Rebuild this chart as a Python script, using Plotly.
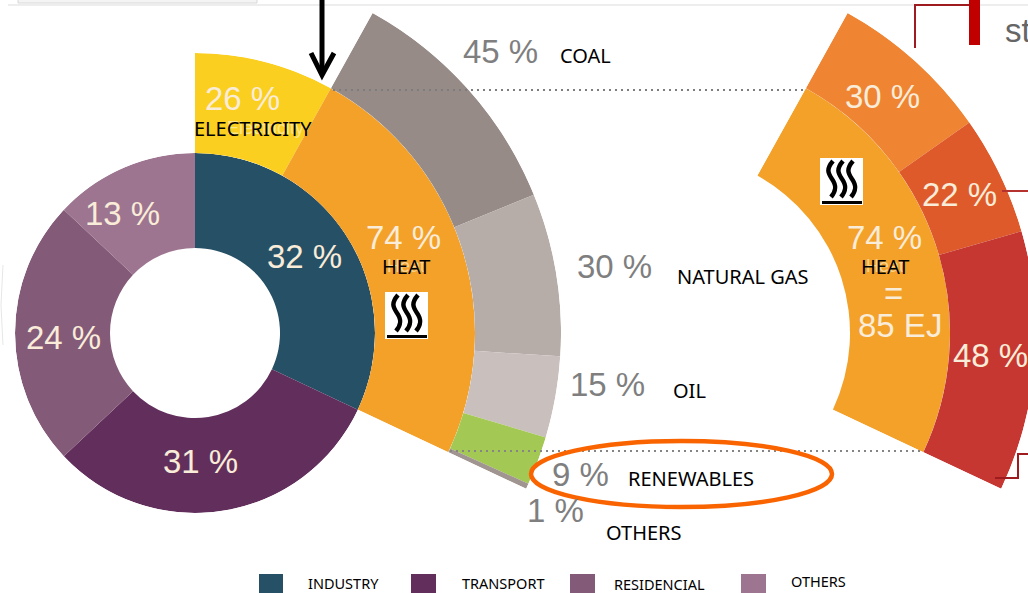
import math

import plotly.graph_objects as go

# Percent shares
sector_names = ['Industry', 'Transport', 'Residencial', 'Others']
sector_share = [32, 31, 24, 13]
sector_colors = ['#265066', '#622f5c', '#835a78', '#9d7590']

# printed as 26 / 74, the wedges themselves are drawn a little off that
use_names = ['Electricity', 'Heat']
use_share = [25.2, 74.8]
use_colors = ['#fbcf20', '#f4a12a']

fuel_names = ['Coal', 'Natural gas', 'Oil', 'Renewables', 'Others']
fuel_share = [45, 30, 15, 9, 1]
fuel_colors = ['#978b87', '#b6aca8', '#c9c0bd', '#a3c854', '#a09590']

temp_names = ['30 %', '22 %', '48 %']
temp_share = [30, 22, 48]
temp_colors = ['#ef8533', '#de5a2a', '#c63731']

legend_labels = ['INDUSTRY', 'TRANSPORT', 'RESIDENCIAL', 'OTHERS']

# Page is a bit wider than the window so the right ring runs off the edge
W, H = 1040, 593
R_HOLE, R_IN, R_MID, R_OUT = 85, 180, 280, 366
LEFT_C = (195, 333)
RIGHT_C = (670, 333)
WHITE = '#f9ecd8'
GREY = '#7f7f7f'
LABEL_FONT = 'Noto Sans'
NUM_FONT = 'Liberation Sans'


def px(x):
    return x / W


def py(y):
    return 1 - y / H


def ring(names, shares, colors, start, span, inner, outer, subplot):
    """Wedges for one ring, angles clockwise from the top of the circle."""
    total = sum(shares)
    widths = [s / total * span for s in shares]
    theta = []
    pos = start
    for w in widths:
        theta.append(pos + w / 2)
        pos += w
    return go.Barpolar(
        theta=theta, width=widths, r=[outer - inner] * len(shares), base=inner,
        marker=dict(color=colors, line=dict(width=0)),
        text=names, hoverinfo='text', subplot=subplot, showlegend=False,
    )


def polar_layout(center, radius, sector=None):
    cx, cy = center
    if sector is None:
        x0, x1, y0, y1 = cx - radius, cx + radius, cy - radius, cy + radius
        sector = [0, 360]
    else:
        x0, x1 = cx, cx + radius
        y0 = cy - radius * math.sin(math.radians(sector[1]))
        y1 = cy - radius * math.sin(math.radians(sector[0]))
    return dict(
        domain=dict(x=[px(x0), px(x1)], y=[py(y1), py(y0)]),
        sector=sector,
        bgcolor='rgba(0,0,0,0)',
        radialaxis=dict(visible=False, range=[0, radius]),
        angularaxis=dict(visible=False, direction='clockwise', rotation=90),
    )


heat_span = sector_share[0] / 100 * 360
elec_span = heat_span * use_share[0] / 100
sector_end = 90 - heat_span

fig = go.Figure()
fig.add_trace(ring(sector_names, sector_share, sector_colors, 0, 360, R_HOLE, R_IN, 'polar'))
fig.add_trace(ring(use_names, use_share, use_colors, 0, heat_span, R_IN, R_MID, 'polar2'))
fig.add_trace(ring(fuel_names, fuel_share, fuel_colors, elec_span, heat_span - elec_span, R_MID, R_OUT, 'polar3'))
fig.add_trace(ring(['Heat'], [use_share[1]], [use_colors[1]], elec_span, heat_span - elec_span, R_IN, R_MID, 'polar4'))
fig.add_trace(ring(temp_names, temp_share, temp_colors, elec_span, heat_span - elec_span, R_MID, R_OUT, 'polar5'))

shapes = []


def line_shape(points, color, width, dash='solid'):
    path = 'M ' + ' L '.join(f'{px(x):.5f} {py(y):.5f}' for x, y in points)
    shapes.append(dict(type='path', xref='paper', yref='paper', path=path,
                       line=dict(color=color, width=width, dash=dash)))


def rect_shape(x0, y0, x1, y1, color, line_color=None):
    shapes.append(dict(type='rect', xref='paper', yref='paper',
                       x0=px(x0), x1=px(x1), y0=py(y1), y1=py(y0), fillcolor=color,
                       line=dict(width=1 if line_color else 0, color=line_color or color)))


def heat_icon(x, y):
    rect_shape(x, y, x + 43, y + 47, 'white')
    for dx in (0, 10, 20):
        first = [(13, 3), (6, 11), (8, 15), (12, 21)]
        second = [(17, 28), (16, 33), (11, 39)]
        p = [f'{px(x + a + dx):.5f} {py(y + b):.5f}' for a, b in first]
        q = [f'{px(x + a + dx):.5f} {py(y + b):.5f}' for a, b in second]
        path = f'M {p[0]} C {p[1]} {p[2]} {p[3]} C {q[0]} {q[1]} {q[2]}'
        shapes.append(dict(type='path', xref='paper', yref='paper', path=path,
                           line=dict(color='black', width=4.5)))
    rect_shape(x + 2, y + 43, x + 42, y + 46, 'black')


# header strip of the slide
line_shape([(8, 5), (1040, 5)], '#dddddd', 1)
rect_shape(18, -6, 257, 3, '#f4f4f4', '#d8d8d8')
line_shape([(915, 48), (915, 5), (972, 5)], '#9e1b20', 2)
rect_shape(969, -2, 980, 45, '#c00000')
line_shape([(1002, 191), (1040, 191)], '#b5322e', 2)
line_shape([(995, 478), (1018, 478), (1018, 454), (1040, 454)], '#9e1b20', 2)
line_shape([(3, 265), (1, 305), (3, 345)], '#e6e6e6', 1)

# dotted links between the two charts
line_shape([(333, 90), (803, 90)], '#7d7d7d', 2, '2px,4px')
line_shape([(450, 451), (923, 451)], '#858585', 2, '2px,4px')

# arrow pointing at the electricity / heat split
line_shape([(322, -2), (322, 74)], 'black', 5)
line_shape([(311, 53), (322, 75), (334, 53)], 'black', 5)

# highlight round renewables
shapes.append(dict(type='circle', xref='paper', yref='paper',
                   x0=px(531), x1=px(832), y0=py(507), y1=py(441),
                   line=dict(color='#f96400', width=4.5)))

heat_icon(385, 292)
heat_icon(820, 158)

# legend swatches
for x0, x1, c in zip([259, 411, 570, 741], [283, 436, 595, 766], sector_colors):
    rect_shape(x0, 574, x1, 596, c)


def label(x, y, text, size, color, family=LABEL_FONT):
    fig.add_annotation(x=px(x), y=py(y), xref='paper', yref='paper', text=text,
                       showarrow=False, xanchor='center', yanchor='middle',
                       font=dict(size=size, color=color, family=family))


# faded original captions under the black ones
label(265, 128, 'Electricity', 18, '#fde68a', NUM_FONT)
label(406, 266, 'Heat', 18, '#f9d490', NUM_FONT)
label(885, 266, 'Heat', 18, '#f9d490', NUM_FONT)

for x, y, t in [(242, 99, '26 %'), (304, 256, '32 %'), (403, 237, '74 %'), (122, 213, '13 %'),
                (63, 337, '24 %'), (200, 461, '31 %'), (882, 96, '30 %'), (959, 194, '22 %'),
                (884, 237, '74 %'), (893, 293, '='), (900, 325, '85 EJ'), (990, 355, '48 %')]:
    label(x, y, t, 33, WHITE, NUM_FONT)

for x, y, t in [(500, 51, '45 %'), (614, 266, '30 %'), (607, 384, '15 %'),
                (580, 474, '9 %'), (555, 510, '1 %')]:
    label(x, y, t, 33, GREY, NUM_FONT)

for x, y, t in [(253, 129, 'ELECTRICITY'), (406, 266, 'HEAT'), (885, 266, 'HEAT'), (585, 55, 'COAL'),
                (743, 276, 'NATURAL GAS'), (689, 390, 'OIL'), (691, 478, 'RENEWABLES'), (644, 532, 'OTHERS')]:
    label(x, y, t, 20, 'black')

for x, y, t in zip([343, 503, 659, 818], [583, 583, 584, 581], legend_labels):
    label(x, y, t, 14.5, 'black')

label(1018, 30, 'st', 33, '#666666', NUM_FONT)

fig.update_layout(
    width=W, height=H,
    margin=dict(l=0, r=0, t=0, b=0),
    paper_bgcolor='white',
    showlegend=False,
    shapes=shapes,
    polar=polar_layout(LEFT_C, R_IN),
    polar2=polar_layout(LEFT_C, R_MID, [sector_end, 90]),
    polar3=polar_layout(LEFT_C, R_OUT, [sector_end, 90 - elec_span]),
    polar4=polar_layout(RIGHT_C, R_MID, [sector_end, 90 - elec_span]),
    polar5=polar_layout(RIGHT_C, R_OUT, [sector_end, 90 - elec_span]),
)

fig.write_html("out.html", config={'displayModeBar': False},
               post_script="document.body.style.margin='0';document.body.style.overflow='hidden';")
